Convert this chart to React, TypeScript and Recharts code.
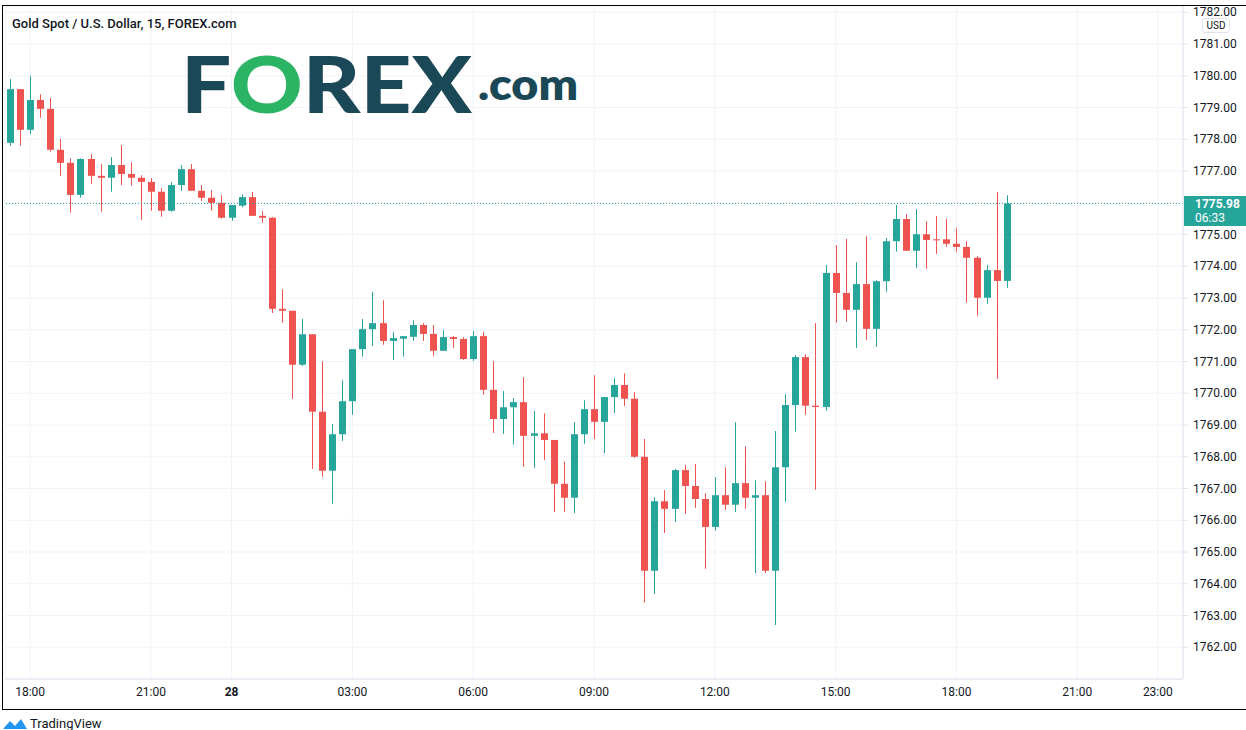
import React from "react";
import { ComposedChart, Bar, XAxis, YAxis, CartesianGrid, ReferenceLine } from "recharts";

// 15-minute gold candles, 27 17:30 -> 28 19:15
const opens = [
  1777.89, 1779.58, 1778.3, 1779.24, 1778.96, 1777.67, 1777.26, 1776.25, 1777.38, 1776.85,
  1776.79, 1777.19, 1776.91, 1776.79, 1776.66, 1776.35, 1775.75, 1776.56, 1777.06, 1776.38,
  1776.16, 1776.0, 1775.53, 1775.91, 1776.18, 1775.59, 1775.53, 1772.66, 1772.6, 1770.9,
  1771.86, 1769.42, 1767.56, 1768.71, 1769.75, 1771.39, 1772.02, 1772.21, 1771.65, 1771.72,
  1771.78, 1772.15, 1771.87, 1771.34, 1771.77, 1771.71, 1771.08, 1771.8, 1770.11, 1769.19,
  1769.56, 1769.72, 1768.66, 1768.74, 1768.53, 1767.15, 1766.71, 1768.71, 1769.5, 1769.1,
  1769.88, 1770.26, 1769.83, 1768.0, 1764.41, 1766.6, 1766.36, 1767.58, 1767.08, 1766.67,
  1765.79, 1766.79, 1766.49, 1767.17, 1766.71, 1766.79, 1764.41, 1767.67, 1769.63, 1771.14,
  1769.61, 1769.57, 1773.79, 1773.16, 1772.63, 1773.44, 1772.03, 1773.53, 1774.79, 1775.49,
  1774.49, 1775.01, 1774.85, 1774.85, 1774.71, 1774.61, 1774.27, 1773.01, 1773.88, 1773.54,
];
const highs = [
  1779.9, 1779.58, 1780.0, 1779.42, 1779.3, 1778.01, 1777.4, 1777.4, 1777.53, 1777.22,
  1777.44, 1777.82, 1777.28, 1776.87, 1776.78, 1776.46, 1776.65, 1777.19, 1777.22, 1776.56,
  1776.4, 1776.24, 1775.93, 1776.27, 1776.34, 1775.74, 1775.55, 1773.28, 1772.6, 1772.34,
  1771.86, 1771.01, 1769.03, 1770.41, 1771.39, 1772.34, 1773.19, 1772.93, 1771.93, 1771.8,
  1772.3, 1772.21, 1772.15, 1771.99, 1771.8, 1771.77, 1771.96, 1771.93, 1771.02, 1770.07,
  1769.85, 1770.51, 1769.44, 1769.37, 1768.53, 1767.86, 1769.09, 1769.78, 1770.57, 1769.88,
  1770.48, 1770.63, 1770.04, 1768.56, 1766.73, 1766.95, 1767.62, 1767.74, 1767.77, 1766.85,
  1767.36, 1767.67, 1769.09, 1768.33, 1767.26, 1767.23, 1768.81, 1769.97, 1771.2, 1771.23,
  1772.21, 1774.04, 1774.67, 1774.86, 1774.13, 1774.95, 1773.56, 1774.89, 1775.93, 1775.64,
  1775.8, 1775.42, 1775.58, 1775.49, 1775.2, 1774.79, 1774.32, 1774.04, 1776.34, 1776.24,
];
const lows = [
  1777.8, 1777.8, 1778.17, 1778.68, 1777.61, 1776.84, 1775.69, 1776.16, 1776.6, 1775.72,
  1776.35, 1776.56, 1776.54, 1775.46, 1775.75, 1775.56, 1775.72, 1776.38, 1776.38, 1776.06,
  1775.75, 1775.5, 1775.43, 1775.86, 1775.59, 1775.37, 1772.53, 1772.22, 1769.82, 1770.86,
  1767.62, 1767.37, 1766.52, 1768.5, 1769.32, 1771.15, 1771.49, 1771.53, 1771.05, 1771.15,
  1771.65, 1771.65, 1771.18, 1771.34, 1771.43, 1771.05, 1771.02, 1769.95, 1768.75, 1768.72,
  1768.38, 1767.68, 1767.65, 1767.9, 1766.26, 1766.26, 1766.23, 1768.41, 1768.56, 1768.12,
  1769.38, 1769.6, 1767.97, 1763.4, 1763.68, 1765.6, 1765.95, 1766.2, 1766.39, 1764.47,
  1765.67, 1766.33, 1766.26, 1766.36, 1764.34, 1764.34, 1762.7, 1766.58, 1768.79, 1769.32,
  1766.96, 1769.45, 1772.22, 1772.25, 1771.43, 1771.68, 1771.46, 1773.2, 1774.46, 1774.49,
  1773.95, 1773.92, 1774.39, 1774.61, 1774.46, 1772.85, 1772.44, 1772.82, 1770.45, 1773.32,
];
const closes = [
  1779.58, 1778.3, 1779.24, 1778.96, 1777.67, 1777.26, 1776.25, 1777.38, 1776.85, 1776.79,
  1777.19, 1776.91, 1776.79, 1776.66, 1776.35, 1775.75, 1776.56, 1777.06, 1776.38, 1776.16,
  1776.0, 1775.53, 1775.93, 1776.18, 1775.59, 1775.53, 1772.66, 1772.6, 1770.9, 1771.86,
  1769.42, 1767.56, 1768.71, 1769.75, 1771.39, 1772.02, 1772.21, 1771.65, 1771.74, 1771.8,
  1772.15, 1771.87, 1771.34, 1771.77, 1771.71, 1771.08, 1771.8, 1770.11, 1769.19, 1769.56,
  1769.72, 1768.66, 1768.74, 1768.53, 1767.15, 1766.71, 1768.71, 1769.5, 1769.1, 1769.88,
  1770.26, 1769.83, 1768.0, 1764.41, 1766.6, 1766.36, 1767.58, 1767.08, 1766.67, 1765.79,
  1766.79, 1766.49, 1767.17, 1766.71, 1766.79, 1764.41, 1767.67, 1769.63, 1771.14, 1769.61,
  1769.57, 1773.79, 1773.16, 1772.63, 1773.44, 1772.03, 1773.53, 1774.79, 1775.49, 1774.49,
  1775.01, 1774.83, 1774.83, 1774.71, 1774.61, 1774.27, 1773.01, 1773.88, 1773.54, 1775.98,
];

const lastPrice = 1775.98;
const priceTicks = [1762, 1763, 1764, 1765, 1766, 1767, 1768, 1769, 1770, 1771, 1772, 1773, 1774, 1775, 1776, 1777, 1778, 1779, 1780, 1781, 1782];
const hiddenPriceTick = 1776; // sits under the last-price label
const timeTicks = ["27 18:00", "27 21:00", "28 00:00", "28 03:00", "28 06:00", "28 09:00", "28 12:00", "28 15:00", "28 18:00", "28 21:00", "28 23:00"];
const SLOTS = 117; // 100 candles + empty space on the right

const UP = "#26a69a";
const DOWN = "#ef5350";
const FONT = "Roboto, 'Noto Sans', sans-serif";

// time slots; market is shut 22:00-23:00 on the 27th
function buildTimes() {
  const out: string[] = [];
  let day = 27;
  let m = 17 * 60 + 30;
  for (let i = 0; i < SLOTS; i++) {
    const hh = String(Math.floor(m / 60)).padStart(2, "0");
    const mm = String(m % 60).padStart(2, "0");
    out.push(`${day} ${hh}:${mm}`);
    m += 15;
    if (day === 27 && m === 22 * 60) m = 23 * 60;
    if (m >= 24 * 60) { m -= 24 * 60; day += 1; }
  }
  return out;
}
const times = buildTimes();

const data = times.map((t, i) =>
  i < opens.length
    ? { t, o: opens[i], h: highs[i], l: lows[i], c: closes[i] }
    : { t, o: null, h: null, l: null, c: null }
);

function fmtTime(v: string) {
  return v === "28 00:00" ? "28" : v.split(" ")[1];
}

function Candle(props: any) {
  const { x, y, width, height, payload } = props;
  if (!payload || payload.o == null) return null;
  const { o, h, l, c } = payload;
  const top = Math.min(y, y + height);
  const span = Math.abs(height);
  const k = h - l > 0 ? span / (h - l) : 0;
  const yO = top + (h - o) * k;
  const yC = top + (h - c) * k;
  const color = c >= o ? UP : DOWN;
  const cx = Math.floor(x + width / 2) + 0.5;
  return (
    <g>
      <line x1={cx} x2={cx} y1={top} y2={top + span} stroke={color} strokeWidth={1} />
      <rect x={cx - 3.5} y={Math.min(yO, yC)} width={7} height={Math.max(1, Math.abs(yO - yC))} fill={color} />
    </g>
  );
}

function TimeTick(props: any) {
  const { x, y, payload } = props;
  const label = fmtTime(payload.value);
  return (
    <text x={x} y={y + 17} textAnchor="middle" fontSize={12} fill="#131722" fontFamily={FONT} fontWeight={label === "28" ? 700 : 400}>
      {label}
    </text>
  );
}

function PriceTick(props: any) {
  const { x, y, payload } = props;
  if (payload.value === hiddenPriceTick) return null;
  return (
    <text x={x} y={y + 4} textAnchor="start" fontSize={12} fill="#131722" fontFamily={FONT}>
      {Number(payload.value).toFixed(2)}
    </text>
  );
}

export default function App() {
  return (
    <div style={{ position: "relative", width: 1246, height: 730, background: "#fff", overflow: "hidden", fontFamily: FONT }}>
      <style>{"body{margin:0}"}</style>
      <div style={{ position: "absolute", left: 0, top: 0 }}>
        <ComposedChart width={1246} height={708} data={data} margin={{ top: 6, right: 0, left: 5, bottom: 0 }} barSize={7}>
          <CartesianGrid stroke="#f0f3fa" />
          <XAxis
            dataKey="t"
            ticks={timeTicks}
            interval={0}
            height={29}
            tickSize={0}
            tickMargin={0}
            axisLine={{ stroke: "#e0e3eb" }}
            tick={<TimeTick />}
          />
          <YAxis
            orientation="right"
            width={63}
            domain={[1761, 1782.2]}
            allowDataOverflow
            ticks={priceTicks}
            interval={0}
            tickSize={5}
            tickMargin={5}
            axisLine={{ stroke: "#e0e3eb" }}
            tickLine={{ stroke: "#e0e3eb" }}
            tick={<PriceTick />}
          />
          <ReferenceLine y={lastPrice} stroke={UP} strokeDasharray="1 2" strokeWidth={1} />
          <Bar dataKey={(d: any) => (d.o == null ? null : [d.l, d.h])} shape={<Candle />} isAnimationActive={false} />
        </ComposedChart>
      </div>

      {/* frame */}
      <div style={{ position: "absolute", left: 0, top: 0, width: 1246, height: 5, background: "#fff" }} />
      <div style={{ position: "absolute", left: 2, top: 5, width: 1250, height: 703, borderTop: "1px solid #000", borderLeft: "1px solid #000", borderBottom: "1px solid #000" }} />

      {/* title */}
      <div style={{ position: "absolute", left: 12, top: 16, fontSize: 13, fontWeight: 500, color: "#131722", whiteSpace: "nowrap" }}>
        Gold Spot / U.S. Dollar, 15, FOREX.com
      </div>

      {/* FOREX.com watermark */}
      <svg style={{ position: "absolute", left: 0, top: 0 }} width={700} height={140}>
        <text x={181} y={113} fontSize={78} fontWeight={900} fontFamily="Lato, Inter, sans-serif" textLength={291} lengthAdjust="spacingAndGlyphs">
          <tspan fill="#1b4857">F</tspan>
          <tspan fill="#2ab464">O</tspan>
          <tspan fill="#1b4857">REX</tspan>
        </text>
        <text x={478} y={100} fontSize={44} fontWeight={800} fontFamily="Lato, Inter, sans-serif" fill="#1b4857" textLength={100} lengthAdjust="spacingAndGlyphs">
          .com
        </text>
      </svg>

      {/* currency badge */}
      <div style={{ position: "absolute", left: 1202, top: 18, width: 26, height: 13, border: "1px solid #e0e3eb", borderRadius: 3, background: "#fff", fontSize: 10, lineHeight: "13px", textAlign: "center", color: "#131722" }}>
        USD
      </div>

      {/* last price label */}
      <div style={{ position: "absolute", left: 1184, top: 196, width: 62, height: 30, background: UP, color: "#fff", fontSize: 12, lineHeight: "14px", paddingLeft: 11, boxSizing: "border-box", paddingTop: 1 }}>
        <div style={{ fontWeight: 700 }}>{lastPrice.toFixed(2)}</div>
        <div>06:33</div>
      </div>

      {/* TradingView mark */}
      <svg style={{ position: "absolute", left: 2, top: 716 }} width={26} height={14}>
        <path d="M1 13 L8 5 L13 10 L19 3 L25 13 Z" fill="#2196f3" />
      </svg>
      <div style={{ position: "absolute", left: 30, top: 716, fontSize: 13, color: "#131722" }}>TradingView</div>
    </div>
  );
}
